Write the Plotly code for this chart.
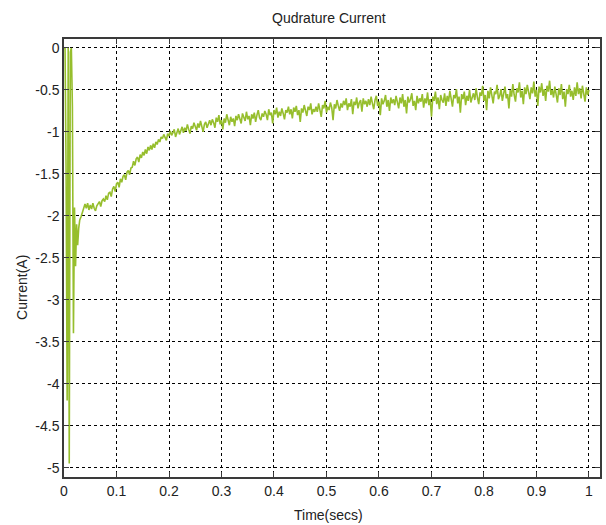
import numpy as np
import plotly.graph_objects as go

# ---- data ----
# start-up transient (time in s, current in A)
t_transient = [0.0, 0.002, 0.004, 0.006, 0.008, 0.010, 0.012, 0.014, 0.016,
               0.018, 0.020, 0.022, 0.024, 0.026, 0.028]
i_transient = [0.0, 0.0, -1.5, -4.2, 0.0, -4.95, -0.05, 0.0, -0.7,
               -3.4, -1.9, -2.6, -2.1, -2.35, -2.15]

# noisy settling part, sampled every 2.5 ms from 0.03 s to 1.0 s
t0_noisy = 0.03
dt_noisy = 0.0025
i_noisy = [
    -2.05, -2.01, -1.95, -1.90, -1.86, -1.91, -1.85, -1.93, -1.87, -1.92, -1.85, -1.91, -1.94, -1.88, -1.86, -1.83, -1.89, -1.82, -1.80, -1.83,
    -1.76, -1.81, -1.73, -1.72, -1.77, -1.68, -1.65, -1.71, -1.62, -1.60, -1.66, -1.56, -1.60, -1.53, -1.51, -1.57, -1.48, -1.46, -1.51, -1.43,
    -1.42, -1.35, -1.40, -1.32, -1.30, -1.36, -1.27, -1.31, -1.24, -1.28, -1.21, -1.26, -1.18, -1.22, -1.16, -1.21, -1.14, -1.19, -1.12, -1.15,
    -1.09, -1.12, -1.06, -1.08, -1.03, -1.07, -1.10, -1.02, -1.05, -0.99, -1.04, -1.01, -0.97, -1.06, -1.00, -0.96, -1.03, -0.99, -0.94, -1.01,
    -0.95, -0.99, -0.91, -0.97, -1.02, -0.93, -0.96, -0.89, -0.94, -0.98, -0.90, -0.95, -0.87, -0.93, -1.00, -0.91, -0.88, -0.95, -0.90, -0.86,
    -0.92, -0.85, -0.89, -0.95, -0.83, -0.88, -0.80, -0.91, -0.86, -0.97, -0.84, -0.89, -0.79, -0.87, -0.92, -0.82, -0.88, -0.84, -0.93, -0.81,
    -0.86, -0.79, -0.84, -0.90, -0.78, -0.83, -0.87, -0.76, -0.85, -0.81, -0.92, -0.79, -0.84, -0.77, -0.88, -0.80, -0.74, -0.83, -0.86, -0.78,
    -0.82, -0.75, -0.79, -0.86, -0.73, -0.80, -0.77, -0.90, -0.74, -0.79, -0.71, -0.83, -0.76, -0.81, -0.72, -0.78, -0.85, -0.74, -0.77, -0.70,
    -0.79, -0.73, -0.84, -0.71, -0.76, -0.69, -0.80, -0.74, -0.88, -0.72, -0.77, -0.68, -0.75, -0.81, -0.70, -0.74, -0.66, -0.79, -0.73, -0.76,
    -0.70, -0.76, -0.66, -0.73, -0.82, -0.68, -0.72, -0.63, -0.77, -0.70, -0.74, -0.65, -0.71, -0.86, -0.67, -0.72, -0.62, -0.69, -0.75, -0.66,
    -0.71, -0.63, -0.68, -0.60, -0.74, -0.66, -0.70, -0.61, -0.79, -0.64, -0.68, -0.59, -0.72, -0.65, -0.62, -0.76, -0.60, -0.67, -0.63, -0.70,
    -0.61, -0.68, -0.58, -0.66, -0.73, -0.62, -0.57, -0.69, -0.64, -0.80, -0.60, -0.67, -0.63, -0.56, -0.70, -0.62, -0.75, -0.59, -0.66, -0.61,
    -0.68, -0.57, -0.64, -0.72, -0.59, -0.66, -0.55, -0.70, -0.62, -0.78, -0.58, -0.65, -0.61, -0.54, -0.69, -0.63, -0.74, -0.57, -0.66, -0.60,
    -0.64, -0.55, -0.71, -0.60, -0.66, -0.53, -0.68, -0.61, -0.82, -0.58, -0.63, -0.52, -0.67, -0.59, -0.73, -0.56, -0.62, -0.65, -0.54, -0.69,
    -0.57, -0.64, -0.51, -0.62, -0.70, -0.56, -0.60, -0.49, -0.66, -0.58, -0.77, -0.55, -0.61, -0.52, -0.68, -0.57, -0.63, -0.50, -0.65, -0.59,
    -0.54, -0.62, -0.48, -0.59, -0.67, -0.53, -0.57, -0.45, -0.63, -0.56, -0.74, -0.51, -0.60, -0.47, -0.58, -0.66, -0.52, -0.55, -0.44, -0.61,
    -0.57, -0.49, -0.63, -0.52, -0.46, -0.60, -0.55, -0.72, -0.50, -0.58, -0.43, -0.56, -0.64, -0.48, -0.53, -0.41, -0.59, -0.51, -0.67, -0.47,
    -0.55, -0.44, -0.52, -0.61, -0.47, -0.54, -0.40, -0.58, -0.50, -0.69, -0.46, -0.53, -0.42, -0.57, -0.49, -0.63, -0.45, -0.52, -0.39, -0.56,
    -0.50, -0.59, -0.46, -0.54, -0.65, -0.48, -0.56, -0.43, -0.61, -0.52, -0.70, -0.49, -0.55, -0.44, -0.58, -0.51, -0.62, -0.47, -0.57, -0.41,
    -0.55, -0.48, -0.60, -0.45, -0.53, -0.64, -0.47, -0.56, -0.50,
]

x_ticks = [0, 0.1, 0.2, 0.3, 0.4, 0.5, 0.6, 0.7, 0.8, 0.9, 1]
x_tick_labels = ["0", "0.1", "0.2", "0.3", "0.4", "0.5", "0.6", "0.7", "0.8", "0.9", "1"]
y_ticks = [0, -0.5, -1, -1.5, -2, -2.5, -3, -3.5, -4, -4.5, -5]
y_tick_labels = ["0", "-0.5", "-1", "-1.5", "-2", "-2.5", "-3", "-3.5", "-4", "-4.5", "-5"]

t_noisy = [t0_noisy + dt_noisy * k for k in range(len(i_noisy))]
t_all = t_transient + t_noisy
i_all = i_transient + i_noisy

FONT = "Liberation Sans Narrow, Arial Narrow, Liberation Sans, Arial, sans-serif"

fig = go.Figure()
fig.add_trace(go.Scatter(
    x=t_all, y=i_all, mode="lines",
    line=dict(color="rgb(150,190,45)", width=1.6),
    showlegend=False, hoverinfo="skip",
))

axis_common = dict(
    showline=True, linecolor="#3a3a3a", linewidth=1.5, mirror="allticks",
    ticks="inside", ticklen=5, tickcolor="#3a3a3a",
    showgrid=True, gridcolor="#000000", gridwidth=1, griddash="3px,3px",
    zeroline=False,
    tickfont=dict(family=FONT, size=14, color="#222222"),
)

fig.update_layout(
    width=606, height=525,
    margin=dict(l=64, r=4, t=39, b=48),
    paper_bgcolor="white", plot_bgcolor="white",
    xaxis=dict(range=[0, 1.021], tickvals=x_ticks, ticktext=x_tick_labels, **axis_common),
    yaxis=dict(range=[-5.112, 0.107], tickvals=y_ticks, ticktext=y_tick_labels, **axis_common),
    annotations=[
        dict(text="Qudrature Current", x=0.494, y=1.048, xref="paper", yref="paper",
             showarrow=False, font=dict(family=FONT, size=14, color="#222222"),
             xanchor="center", yanchor="middle"),
        dict(text="Time(secs)", x=0.494, y=-0.087, xref="paper", yref="paper",
             showarrow=False, font=dict(family=FONT, size=14, color="#222222"),
             xanchor="center", yanchor="middle"),
        dict(text="Current(A)", x=-0.078, y=0.432, xref="paper", yref="paper",
             showarrow=False, textangle=-90, font=dict(family=FONT, size=14, color="#222222"),
             xanchor="center", yanchor="middle"),
    ],
)

fig.write_html("out.html")
